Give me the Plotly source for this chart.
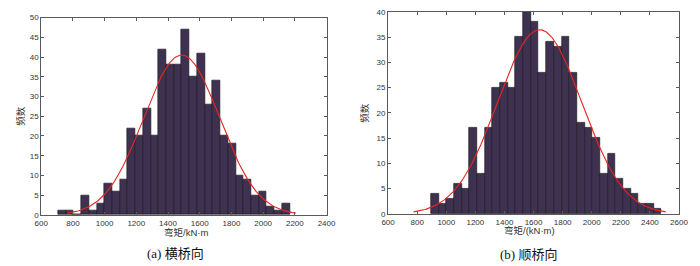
import numpy as np
import plotly.graph_objects as go

# ---- data ----
counts_a = [1, 1, 0, 5, 1, 3, 8, 6, 9, 22, 20, 27, 20, 42, 38, 38, 47, 35, 41, 28,
            34, 20, 18, 10, 9, 5, 6, 2, 1, 3]
bin_start_a = 707.0
bin_width_a = 48.7
mu_a, sigma_a = 1486.0, 240.0

counts_b = [4, 2, 3, 6, 5, 17, 8, 17, 25, 26, 25, 35, 40, 38, 28, 34, 33, 35, 28, 18,
            17, 15, 8, 12, 7, 5, 4, 2, 2, 1]
bin_start_b = 895.5
bin_width_b = 52.8
mu_b, sigma_b = 1642.0, 289.0

xticks_a = list(range(600, 2401, 200))
yticks_a = list(range(0, 51, 5))
xticks_b = list(range(600, 2601, 200))
yticks_b = list(range(0, 41, 5))

xlabel_a = "弯矩/kN·m"
xlabel_b = "弯矩/(kN·m)"
ylabel = "频数"
title_a = "(a) 横桥向"
title_b = "(b) 顺桥向"

W, H = 700, 266
BAR = "#3f3251"
EDGE = "#1e1a22"
RED = "#e8261f"
AX = "#5a5a5a"
TXT = "#333333"


def centers(start, width, n):
    return [start + width * (i + 0.5) for i in range(n)]


def normal_curve(mu, sigma, n, width):
    x = np.linspace(mu - 3 * sigma, mu + 3 * sigma, 200)
    y = n * width / (sigma * np.sqrt(2 * np.pi)) * np.exp(-0.5 * ((x - mu) / sigma) ** 2)
    return x, y


fig = go.Figure()

for counts, start, width, mu, sigma, xa, ya in [
    (counts_a, bin_start_a, bin_width_a, mu_a, sigma_a, "x", "y"),
    (counts_b, bin_start_b, bin_width_b, mu_b, sigma_b, "x2", "y2"),
]:
    fig.add_trace(go.Bar(
        x=centers(start, width, len(counts)), y=counts, width=width,
        marker=dict(color=BAR, line=dict(color=EDGE, width=0.7)),
        xaxis=xa, yaxis=ya, showlegend=False))
    cx, cy = normal_curve(mu, sigma, sum(counts), width)
    fig.add_trace(go.Scatter(
        x=cx, y=cy, mode="lines", line=dict(color=RED, width=1.1),
        xaxis=xa, yaxis=ya, showlegend=False))

tickfont = dict(family="Liberation Sans, Arial, sans-serif", size=8, color=TXT)
common = dict(showline=True, linecolor=AX, linewidth=1, mirror="ticks",
              ticks="inside", ticklen=3, tickcolor=AX, tickwidth=1,
              showgrid=False, zeroline=False, tickfont=tickfont)

fig.update_layout(
    width=W, height=H,
    margin=dict(l=0, r=0, t=0, b=0),
    paper_bgcolor="white", plot_bgcolor="white",
    bargap=0,
    xaxis=dict(domain=[35 / W, 327 / W], range=[600, 2400], tickvals=xticks_a,
               anchor="y", **common),
    yaxis=dict(domain=[1 - 218.3 / H, 1 - 14 / H], range=[0, 50], tickvals=yticks_a,
               anchor="x", **common),
    xaxis2=dict(domain=[390 / W, 687.7 / W], range=[600, 2600], tickvals=xticks_b,
                anchor="y2", **common),
    yaxis2=dict(domain=[1 - 217.3 / H, 1 - 8 / H], range=[0, 40], tickvals=yticks_b,
                anchor="x2", **common),
)

cjk = "Liberation Sans, Noto Sans CJK SC, sans-serif"
serif = "Liberation Serif, Times New Roman, Noto Sans CJK SC, serif"
ann = [
    dict(text=xlabel_a, x=183 / W, y=1 - 236 / H, font=dict(family=cjk, size=9.5, color=TXT)),
    dict(text=xlabel_b, x=535 / W, y=1 - 234 / H, font=dict(family=cjk, size=9.5, color=TXT)),
    dict(text=ylabel, x=13 / W, y=1 - 116 / H, textangle=-90, font=dict(family=cjk, size=9.5, color=TXT)),
    dict(text=ylabel, x=366 / W, y=1 - 113 / H, textangle=-90, font=dict(family=cjk, size=9.5, color=TXT)),
    dict(text=title_a, x=172 / W, y=1 - 258 / H, font=dict(family=serif, size=13, color="#111111")),
    dict(text=title_b, x=534 / W, y=1 - 259 / H, font=dict(family=serif, size=13, color="#111111")),
]
for a in ann:
    a.update(xref="paper", yref="paper", showarrow=False, xanchor="center", yanchor="middle")
fig.update_layout(annotations=ann)

fig.write_html(
    "out.html",
    config={"displayModeBar": False},
    post_script="document.body.style.margin='0';document.body.style.padding='0';"
                "document.body.style.overflow='hidden';",
)
